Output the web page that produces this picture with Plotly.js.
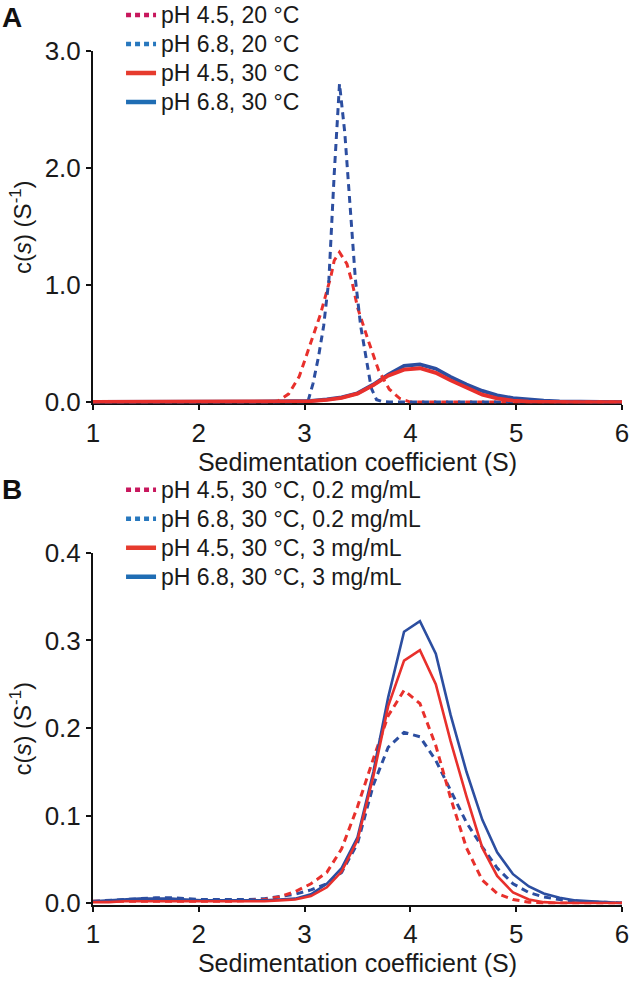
<!DOCTYPE html>
<html>
<head>
<meta charset="utf-8">
<script src="https://cdn.plot.ly/plotly-3.0.1.min.js"></script>
<style>html,body{margin:0;padding:0;background:#fff;}#chart{width:633px;height:985px;}</style>
</head>
<body>
<div id="chart"></div>
<script>
// ---- Data ----
// Sedimentation coefficient grid (S) for the c(s) distributions
const sGrid = [1.00,1.15,1.29,1.44,1.59,1.74,1.88,2.03,2.18,2.32,2.47,2.62,2.76,2.91,3.06,3.21,3.35,3.50,3.65,3.79,3.94,4.09,4.24,4.38,4.53,4.68,4.82,4.97,5.12,5.26,5.41,5.56,5.71,5.85,6.00];

// pH 6.8, 30 °C, 3 mg/mL
const cs_pH68_30_3 = [0.002,0.003,0.004,0.005,0.005,0.005,0.004,0.003,0.003,0.003,0.003,0.003,0.004,0.005,0.010,0.022,0.040,0.075,0.150,0.235,0.310,0.322,0.285,0.215,0.150,0.095,0.058,0.033,0.019,0.011,0.006,0.003,0.002,0.001,0.000];
// pH 4.5, 30 °C, 3 mg/mL
const cs_pH45_30_3 = [0.001,0.001,0.002,0.002,0.002,0.002,0.002,0.002,0.002,0.002,0.002,0.002,0.003,0.004,0.008,0.018,0.036,0.072,0.145,0.225,0.277,0.289,0.250,0.185,0.122,0.063,0.031,0.012,0.004,0.001,0.000,0.000,0.000,0.000,0.000];
// pH 4.5, 30 °C, 0.2 mg/mL
const cs_pH45_30_02 = [0.002,0.002,0.002,0.002,0.002,0.002,0.002,0.002,0.002,0.002,0.003,0.004,0.007,0.013,0.022,0.035,0.062,0.110,0.165,0.214,0.243,0.228,0.180,0.120,0.063,0.026,0.011,0.004,0.001,0.000,0.000,0.000,0.000,0.000,0.000];
// pH 6.8, 30 °C, 0.2 mg/mL
const cs_pH68_30_02 = [0.002,0.003,0.004,0.005,0.006,0.006,0.005,0.004,0.004,0.004,0.004,0.005,0.007,0.010,0.015,0.022,0.035,0.068,0.135,0.178,0.195,0.190,0.163,0.128,0.092,0.064,0.040,0.022,0.012,0.007,0.004,0.002,0.001,0.001,0.000];

// pH 4.5, 20 °C
const s_pH45_20 = [1.00,2.50,2.70,2.75,2.85,2.95,3.05,3.15,3.25,3.28,3.33,3.40,3.45,3.50,3.60,3.70,3.80,3.90,4.00,6.00];
const cs_pH45_20 = [0,0,0.00,0.01,0.07,0.22,0.48,0.75,1.08,1.21,1.28,1.18,1.02,0.81,0.53,0.27,0.11,0.03,0.00,0.00];
// pH 6.8, 20 °C
const s_pH68_20 = [1.00,2.98,3.03,3.08,3.13,3.18,3.23,3.28,3.33,3.38,3.43,3.48,3.53,3.58,3.63,3.68,3.73,3.80,4.00,6.00];
const cs_pH68_20 = [0,0,0.00,0.16,0.38,0.65,1.05,1.95,2.72,2.30,1.70,1.05,0.65,0.38,0.12,0.02,0.005,0.00,0.00,0.00];

const xTicks = [1,2,3,4,5,6];
const yTicksA = [0,1,2,3];
const yTicksB = [0,0.1,0.2,0.3,0.4];

const legendA = ['pH 4.5, 20 °C','pH 6.8, 20 °C','pH 4.5, 30 °C','pH 6.8, 30 °C'];
const legendB = ['pH 4.5, 30 °C, 0.2 mg/mL','pH 6.8, 30 °C, 0.2 mg/mL','pH 4.5, 30 °C, 3 mg/mL','pH 6.8, 30 °C, 3 mg/mL'];

// ---- Styles ----
const RED = '#e8302c', BLUE = '#2c4ea0';
const L_RED_DOT = '#c8175d', L_BLUE_DOT = '#2878be', L_RED = '#e63b2e', L_BLUE = '#1f6db4';
const DASH = '7px,5px';
const LEG_TXT = '<span style="font-size:23px">';

function line(x, y, color, width, dash, xa, ya) {
  return {x:x, y:y, type:'scatter', mode:'lines', xaxis:xa, yaxis:ya, showlegend:false, hoverinfo:'skip',
          line:{color:color, width:width, dash:dash||'solid', shape:'linear'}};
}
function legItem(name, color, width, dash, leg, xa, ya) {
  return {x:[null], y:[null], type:'scatter', mode:'lines', name:LEG_TXT + name + '</span>', legend:leg, xaxis:xa, yaxis:ya,
          showlegend:true, line:{color:color, width:width, dash:dash}};
}

const traces = [
  // Panel A
  line(sGrid, cs_pH68_30_3, BLUE, 3.8, 'solid', 'x', 'y'),
  line(s_pH45_20, cs_pH45_20, RED, 3, DASH, 'x', 'y'),
  line(s_pH68_20, cs_pH68_20, BLUE, 3, DASH, 'x', 'y'),
  line(sGrid, cs_pH45_30_3, RED, 3.8, 'solid', 'x', 'y'),
  // Panel B
  line(sGrid, cs_pH68_30_02, BLUE, 3, DASH, 'x2', 'y2'),
  line(sGrid, cs_pH45_30_02, RED, 3, DASH, 'x2', 'y2'),
  line(sGrid, cs_pH68_30_3, BLUE, 2.6, 'solid', 'x2', 'y2'),
  line(sGrid, cs_pH45_30_3, RED, 2.6, 'solid', 'x2', 'y2'),
  // Legends
  legItem(legendA[0], L_RED_DOT, 4.5, '5px,4px', 'legend', 'x', 'y'),
  legItem(legendA[1], L_BLUE_DOT, 4.5, '5px,4px', 'legend', 'x', 'y'),
  legItem(legendA[2], L_RED, 4.5, 'solid', 'legend', 'x', 'y'),
  legItem(legendA[3], L_BLUE, 4.5, 'solid', 'legend', 'x', 'y'),
  legItem(legendB[0], L_RED_DOT, 4.5, '5px,4px', 'legend2', 'x2', 'y2'),
  legItem(legendB[1], L_BLUE_DOT, 4.5, '5px,4px', 'legend2', 'x2', 'y2'),
  legItem(legendB[2], L_RED, 4.5, 'solid', 'legend2', 'x2', 'y2'),
  legItem(legendB[3], L_BLUE, 4.5, 'solid', 'legend2', 'x2', 'y2')
];

const FONT = 'Liberation Sans, Arial, Helvetica, sans-serif';
const TXT = '#1a1a1a';
const axisCommon = {showline:true, linewidth:2, linecolor:'#111', ticks:'outside', ticklen:5, tickwidth:2, tickcolor:'#111',
  showgrid:false, zeroline:false, layer:'below traces', tickfont:{size:26, color:TXT, family:FONT}};
const xTitle = {text:'Sedimentation coefficient (S)', font:{size:25, color:TXT}, standoff:0};
const yTitle = {text:'c(<i>s</i>) (S<sup>-1</sup>)', font:{size:24, color:TXT}, standoff:6};

const layout = {
  width:633, height:985,
  margin:{l:93, r:11, t:0, b:0, autoexpand:false},
  paper_bgcolor:'#fff', plot_bgcolor:'#fff',
  font:{family:FONT, color:TXT, size:22},
  xaxis: Object.assign({}, axisCommon, {anchor:'y', domain:[0,1], range:[1,6], tickvals:xTicks, title:xTitle}),
  yaxis: Object.assign({}, axisCommon, {anchor:'x', domain:[0.5904,0.9482], range:[-0.012,3], tickvals:yTicksA, tickformat:'.1f', title:yTitle}),
  xaxis2: Object.assign({}, axisCommon, {anchor:'y2', domain:[0,1], range:[1,6], tickvals:xTicks, title:xTitle}),
  yaxis2: Object.assign({}, axisCommon, {anchor:'x2', domain:[0.0817,0.4386], range:[-0.0017,0.4], tickvals:yTicksB, tickformat:'.1f', title:yTitle}),
  legend:{x:0.053, y:1.0046, xanchor:'left', yanchor:'top', bgcolor:'rgba(0,0,0,0)', font:{size:20, color:TXT}, tracegroupgap:0, itemwidth:30},
  legend2:{x:0.053, y:0.5225, xanchor:'left', yanchor:'top', bgcolor:'rgba(0,0,0,0)', font:{size:20, color:TXT}, tracegroupgap:0, itemwidth:30},
  annotations:[
    {text:'<b>A</b>', xref:'paper', yref:'paper', x:-0.176, y:1.0, xanchor:'left', yanchor:'top', showarrow:false, font:{size:28, color:'#111'}},
    {text:'<b>B</b>', xref:'paper', yref:'paper', x:-0.176, y:0.521, xanchor:'left', yanchor:'top', showarrow:false, font:{size:28, color:'#111'}}
  ]
};

Plotly.newPlot('chart', traces, layout, {displayModeBar:false, staticPlot:true});
</script>
</body>
</html>
